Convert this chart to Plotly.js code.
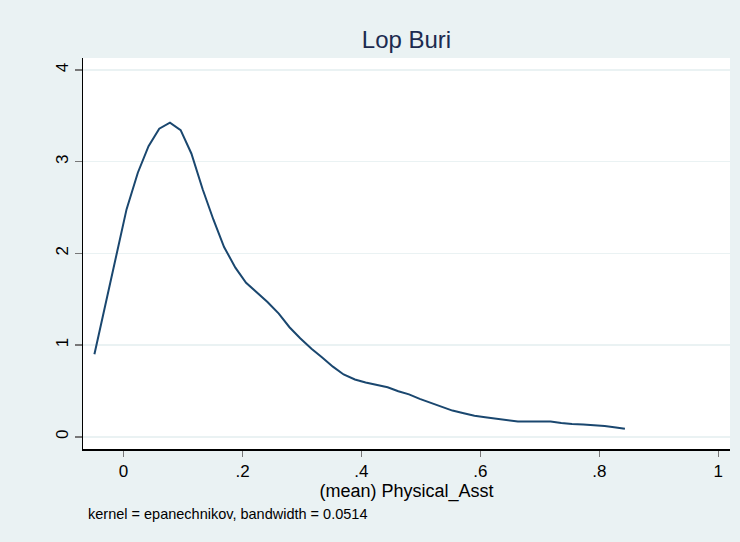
<!DOCTYPE html>
<html>
<head>
<meta charset="utf-8">
<script src="https://cdn.plot.ly/plotly-3.0.1.min.js"></script>
<style>html,body{margin:0;padding:0;background:#eaf2f3;}#chart{width:740px;height:542px;}</style>
</head>
<body>
<div id="chart"></div>
<script>
const xValues = [-0.049, -0.032, -0.0135, 0.005, 0.024, 0.042, 0.060, 0.078, 0.096, 0.114,
  0.133, 0.151, 0.169, 0.188, 0.206, 0.224, 0.242, 0.261, 0.279, 0.297,
  0.316, 0.334, 0.352, 0.370, 0.389, 0.407, 0.425, 0.444, 0.462, 0.480,
  0.498, 0.517, 0.535, 0.553, 0.572, 0.590, 0.608, 0.626, 0.645, 0.663,
  0.681, 0.700, 0.718, 0.736, 0.754, 0.773, 0.791, 0.809, 0.828, 0.843];
const densityValues = [0.90, 1.40, 1.93, 2.48, 2.88, 3.17, 3.36, 3.425, 3.345, 3.09,
  2.70, 2.37, 2.07, 1.845, 1.68, 1.578, 1.47, 1.343, 1.195, 1.075,
  0.96, 0.865, 0.765, 0.68, 0.625, 0.593, 0.565, 0.540, 0.497, 0.463,
  0.414, 0.369, 0.320, 0.286, 0.256, 0.230, 0.214, 0.199, 0.176, 0.166,
  0.166, 0.169, 0.166, 0.151, 0.139, 0.135, 0.128, 0.117, 0.102, 0.087];
const xTickVals = [0, 0.2, 0.4, 0.6, 0.8, 1];
const xTickText = ['0', '.2', '.4', '.6', '.8', '1'];
const yTickVals = [0, 1, 2, 3, 4];
const yTickText = ['0', '1', '2', '3', '4'];
const chartTitle = 'Lop Buri';
const xTitle = '(mean) Physical_Asst';
const noteText = 'kernel = epanechnikov, bandwidth = 0.0514';

const trace = {
  x: xValues, y: densityValues, type: 'scatter', mode: 'lines',
  line: {color: '#1a476f', width: 2}, hoverinfo: 'skip'
};
const font = 'Liberation Sans, Arial, sans-serif';
const layout = {
  width: 740, height: 542,
  paper_bgcolor: '#eaf2f3', plot_bgcolor: '#ffffff',
  margin: {l: 83, r: 10, t: 58, b: 92.5, pad: 0},
  showlegend: false,
  font: {family: font, color: '#000000', size: 16},
  title: {text: chartTitle, font: {family: font, size: 24, color: '#1c2b4f'},
    x: 0.5, xref: 'paper', xanchor: 'center', y: 1 - 39.5 / 542, yref: 'container', yanchor: 'middle'},
  xaxis: {
    range: [-0.0682, 1.0197], tickvals: xTickVals, ticktext: xTickText,
    showgrid: false, zeroline: false, showline: true, linecolor: '#000000', linewidth: 1.5,
    ticks: 'outside', ticklen: 6, tickwidth: 1.5, tickcolor: '#777777',
    tickfont: {family: font, size: 17, color: '#000000'},
    title: {text: xTitle, font: {family: font, size: 18, color: '#000000'}, standoff: 4},
    automargin: false, fixedrange: true
  },
  yaxis: {
    range: [-0.133, 4.131], tickvals: yTickVals, ticktext: yTickText, tickangle: -90,
    showgrid: true, gridcolor: '#eaf2f3', gridwidth: 1.5,
    zeroline: false, showline: true, linecolor: '#000000', linewidth: 1.5,
    ticks: 'outside', ticklen: 7, tickwidth: 1.5, tickcolor: '#777777',
    tickfont: {family: font, size: 17, color: '#000000'},
    automargin: false, fixedrange: true
  },
  annotations: [{
    text: noteText, xref: 'paper', yref: 'paper', x: (86 - 83) / 647, y: (449.5 - 515) / 391.5,
    xanchor: 'left', yanchor: 'middle', showarrow: false,
    font: {family: font, size: 14.5, color: '#000000'}
  }]
};
Plotly.newPlot('chart', [trace], layout, {displayModeBar: false, staticPlot: true});
</script>
</body>
</html>
